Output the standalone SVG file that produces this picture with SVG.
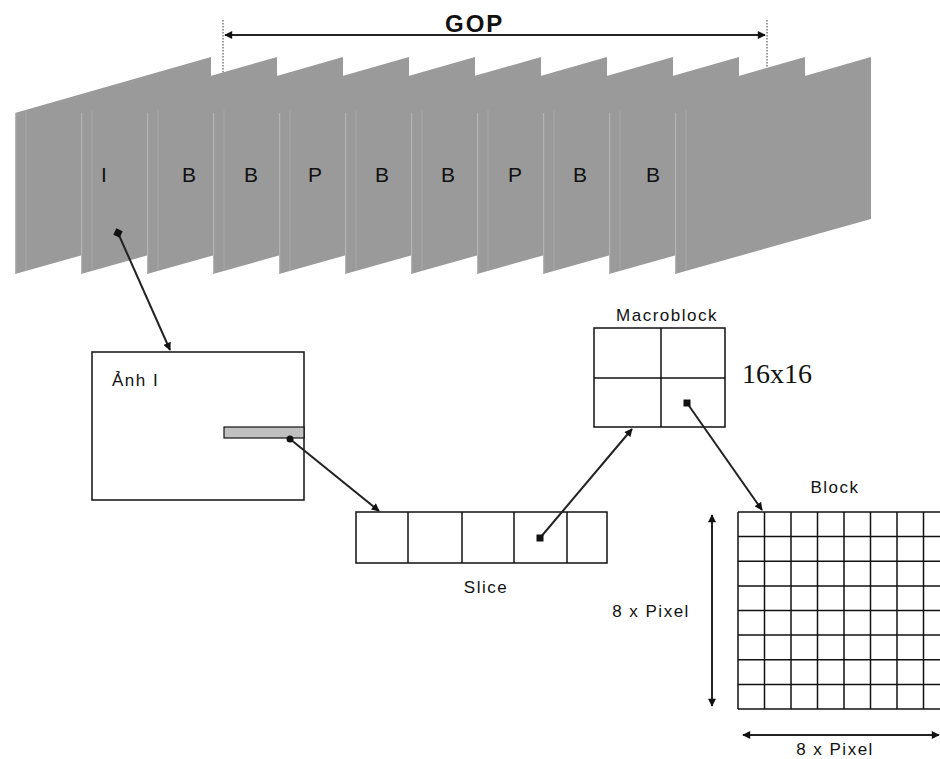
<svg xmlns="http://www.w3.org/2000/svg" width="940" height="759" viewBox="0 0 940 759">
<style>
.frame{fill:#9a9a9a}
.edge{stroke:#b4b4b4;stroke-width:1.2}
.edge2{stroke:#a6a6a6;stroke-width:1}
.fl{font-family:"Liberation Sans",Arial,sans-serif;font-size:21px;fill:#111;text-anchor:middle}
.lbl{font-family:"Liberation Sans",Arial,sans-serif;font-size:17px;fill:#111;letter-spacing:1.5px}
.box{fill:#fff;stroke:#111;stroke-width:1.5}
.ln{stroke:#111;stroke-width:1.5;fill:none}
.conn{stroke:#222;stroke-width:2;fill:none}
.dot{fill:#111}
</style>
<defs>
<marker id="ah" viewBox="0 0 10 10" refX="9" refY="5" markerWidth="9" markerHeight="8" markerUnits="userSpaceOnUse" orient="auto-start-reverse">
<path d="M0,0 L10,5 L0,10 Z" fill="#111"/>
</marker>
<g id="fr">
<polygon class="frame" points="0,113 196,57 196,219 0,274"/>
<line class="edge" x1="0.6" y1="113" x2="0.6" y2="274"/>
<line class="edge2" x1="11" y1="110" x2="11" y2="271"/>
</g>
</defs>
<g id="gop">
<line x1="223" y1="20" x2="223" y2="76" stroke="#333" stroke-width="1" stroke-dasharray="1.5 1.5"/>
<line x1="767" y1="20" x2="767" y2="70" stroke="#333" stroke-width="1" stroke-dasharray="1.5 1.5"/>
<line class="conn" x1="225" y1="35" x2="765" y2="35" marker-start="url(#ah)" marker-end="url(#ah)"/>
<text x="445" y="32" font-family="'Liberation Sans',Arial,sans-serif" font-size="24" font-weight="bold" letter-spacing="2" fill="#111">GOP</text>
</g>
<g id="frames">
<use href="#fr" x="15"/>
<use href="#fr" x="81"/>
<use href="#fr" x="147"/>
<use href="#fr" x="213"/>
<use href="#fr" x="279"/>
<use href="#fr" x="345"/>
<use href="#fr" x="411"/>
<use href="#fr" x="477"/>
<use href="#fr" x="543"/>
<use href="#fr" x="609"/>
<use href="#fr" x="675"/>
<text class="fl" x="104" y="182">I</text>
<text class="fl" x="189" y="182">B</text>
<text class="fl" x="251" y="182">B</text>
<text class="fl" x="315" y="182">P</text>
<text class="fl" x="382" y="182">B</text>
<text class="fl" x="448" y="182">B</text>
<text class="fl" x="515" y="182">P</text>
<text class="fl" x="580" y="182">B</text>
<text class="fl" x="653" y="182">B</text>
</g>
<g id="anh-i">
<rect class="box" x="92" y="352" width="212" height="148"/>
<rect x="224" y="427" width="80" height="11" fill="#c0c0c0" stroke="#111" stroke-width="1.2"/>
<text class="lbl" x="112" y="386" font-size="16" letter-spacing="2.5">Ảnh I</text>
</g>
<g id="slice">
<rect class="box" x="356" y="512" width="251" height="51"/>
<line class="ln" x1="408" y1="512" x2="408" y2="563"/>
<line class="ln" x1="462" y1="512" x2="462" y2="563"/>
<line class="ln" x1="514" y1="512" x2="514" y2="563"/>
<line class="ln" x1="567" y1="512" x2="567" y2="563"/>
<text class="lbl" x="486" y="593" text-anchor="middle">Slice</text>
</g>
<g id="macroblock">
<rect class="box" x="594" y="328" width="131" height="99"/>
<line class="ln" x1="661" y1="328" x2="661" y2="427"/>
<line class="ln" x1="594" y1="378" x2="725" y2="378"/>
<text class="lbl" x="667" y="321" text-anchor="middle">Macroblock</text>
<text x="742" y="383" font-family="'Liberation Serif','Times New Roman',serif" font-size="28" fill="#111">16x16</text>
</g>
<g id="block">
<text class="lbl" x="835" y="493" text-anchor="middle">Block</text>
<g class="ln">
<line x1="738" y1="512" x2="950" y2="512"/>
<line x1="738" y1="536.6" x2="950" y2="536.6"/>
<line x1="738" y1="561.2" x2="950" y2="561.2"/>
<line x1="738" y1="585.9" x2="950" y2="585.9"/>
<line x1="738" y1="610.5" x2="950" y2="610.5"/>
<line x1="738" y1="635.1" x2="950" y2="635.1"/>
<line x1="738" y1="659.8" x2="950" y2="659.8"/>
<line x1="738" y1="684.4" x2="950" y2="684.4"/>
<line x1="738" y1="709" x2="950" y2="709"/>
<line x1="738" y1="512" x2="738" y2="709"/>
<line x1="764.5" y1="512" x2="764.5" y2="709"/>
<line x1="791" y1="512" x2="791" y2="709"/>
<line x1="817.5" y1="512" x2="817.5" y2="709"/>
<line x1="844" y1="512" x2="844" y2="709"/>
<line x1="870.5" y1="512" x2="870.5" y2="709"/>
<line x1="897" y1="512" x2="897" y2="709"/>
<line x1="923.5" y1="512" x2="923.5" y2="709"/>
</g>
<line class="conn" x1="712" y1="515" x2="712" y2="706" marker-start="url(#ah)" marker-end="url(#ah)"/>
<text class="lbl" x="651" y="617" text-anchor="middle">8 x Pixel</text>
<line class="conn" x1="743" y1="735" x2="939" y2="735" marker-start="url(#ah)" marker-end="url(#ah)"/>
<text class="lbl" x="835" y="755" text-anchor="middle">8 x Pixel</text>
</g>
<g id="connectors">
<line class="conn" x1="118" y1="233" x2="170" y2="350" marker-end="url(#ah)"/>
<rect class="dot" x="114.5" y="229.5" width="7" height="7" transform="rotate(25 118 233)"/>
<line class="conn" x1="290" y1="439" x2="379" y2="511" marker-end="url(#ah)"/>
<circle class="dot" cx="290" cy="439" r="3.5"/>
<line class="conn" x1="540" y1="538" x2="632" y2="429" marker-end="url(#ah)"/>
<rect class="dot" x="536.5" y="534.5" width="7" height="7"/>
<line class="conn" x1="687" y1="403" x2="762" y2="510" marker-end="url(#ah)"/>
<rect class="dot" x="683.5" y="399.5" width="7" height="7"/>
</g>
</svg>
